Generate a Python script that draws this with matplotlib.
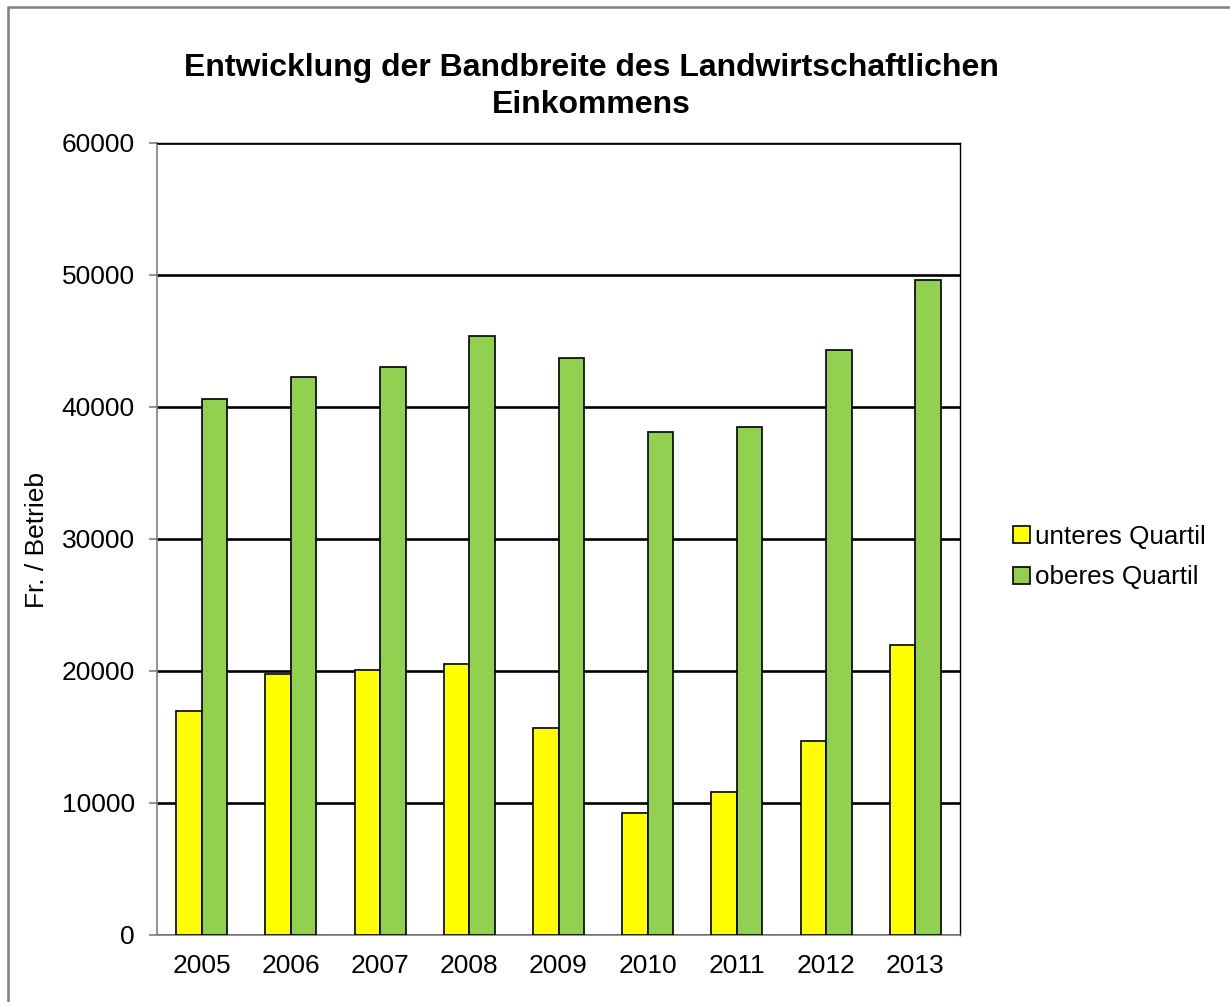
import numpy as np
import matplotlib
matplotlib.use("Agg")
import matplotlib.pyplot as plt
from matplotlib.patches import Rectangle

# data
years = ['2005', '2006', '2007', '2008', '2009', '2010', '2011', '2012', '2013']
unteres = [17000, 19800, 20100, 20500, 15650, 9250, 10800, 14700, 21950]
oberes = [40600, 42250, 43000, 45350, 43700, 38100, 38450, 44300, 49600]

plt.rcParams['font.family'] = ['Liberation Sans', 'DejaVu Sans']

fig = plt.figure(figsize=(12.3, 10.02), dpi=100)
ax = fig.add_axes([157 / 1230, 67 / 1002, 803 / 1230, 792 / 1002])

x = np.arange(len(years))
w = 0.286
ax.bar(x - w / 2, unteres, w, color='#FFFF00', edgecolor='black', linewidth=1.2,
       label='unteres Quartil', zorder=3)
ax.bar(x + w / 2, oberes, w, color='#92D050', edgecolor='black', linewidth=1.2,
       label='oberes Quartil', zorder=3)

ax.set_xlim(-0.5, len(years) - 0.5)
ax.set_ylim(0, 60000)
ax.set_yticks(range(0, 60001, 10000))
ax.set_xticks(x)
ax.set_xticklabels(years)
ax.tick_params(axis='y', labelsize=19, color='#808080', length=6, width=1.2, pad=10)
ax.tick_params(axis='x', labelsize=19, length=0, pad=14)
ax.yaxis.grid(True, color='black', linewidth=1.9, zorder=1)
ax.set_axisbelow(True)

for s in ['left', 'bottom']:
    ax.spines[s].set_color('#808080')
    ax.spines[s].set_linewidth(1.2)
for s in ['top', 'right']:
    ax.spines[s].set_color('black')
    ax.spines[s].set_linewidth(1.0)

fig.text(37 / 1230, 1 - 540 / 1002, 'Fr. / Betrieb', rotation=90, fontsize=19,
         ha='center', va='center')

fig.text(591 / 1230, 1 - 68 / 1002, 'Entwicklung der Bandbreite des Landwirtschaftlichen',
         fontsize=23, fontweight='bold', ha='center', va='center')
fig.text(591 / 1230, 1 - 105 / 1002, 'Einkommens',
         fontsize=23, fontweight='bold', ha='center', va='center')

fig.legend(loc='center left', bbox_to_anchor=(1003 / 1230, 1 - 557 / 1002), frameon=False,
           fontsize=18.7, handlelength=0.65, handleheight=0.65, handletextpad=0.2,
           labelspacing=0.65, borderaxespad=0)

# outer frame
fig.patches.append(Rectangle((8 / 1230, -0.05), 1.2, 1 - 7 / 1002 + 0.05, transform=fig.transFigure,
                             fill=False, edgecolor='#808080', linewidth=1.8))

fig.savefig('out.png', dpi=100)
